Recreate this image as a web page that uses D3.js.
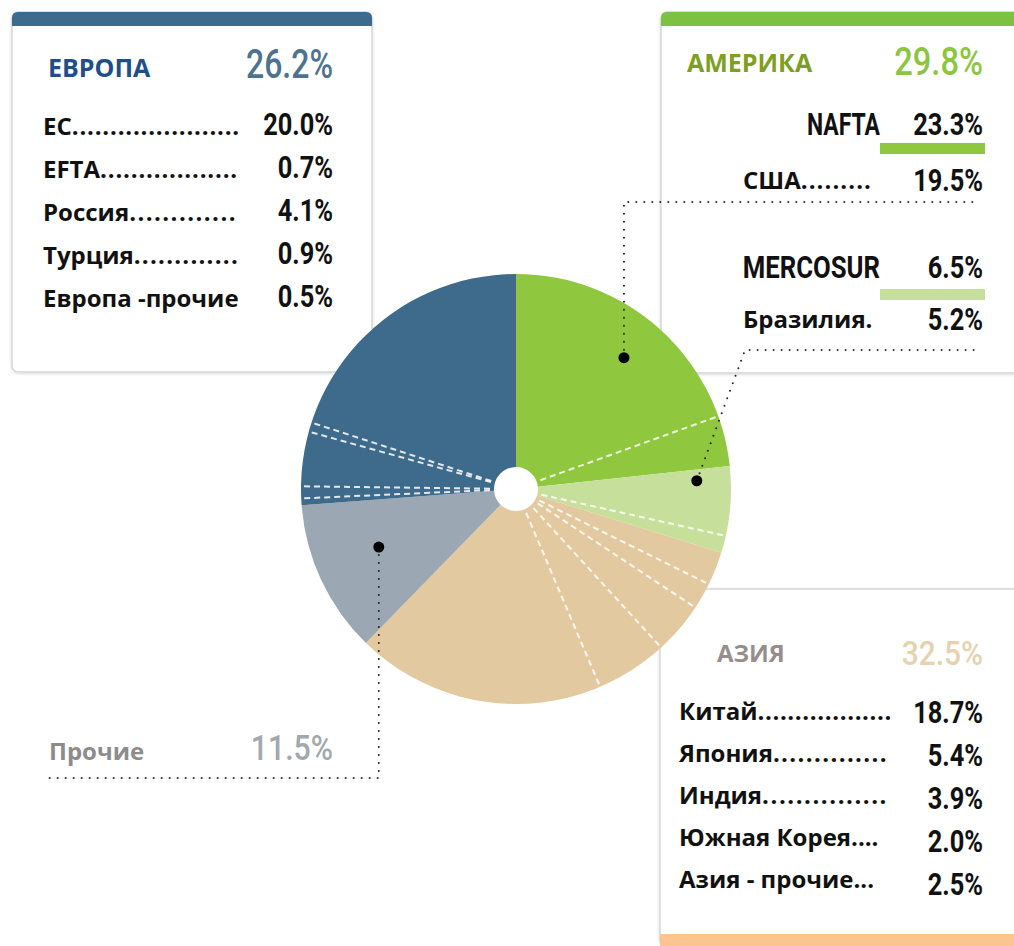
<!DOCTYPE html>
<html>
<head>
<meta charset="utf-8">
<script src="https://cdn.jsdelivr.net/npm/d3@7"></script>
<style>
  body { margin: 0; background: #fff; }
  .lbl { font-family: "Open Sans", "Noto Sans", sans-serif; font-weight: 700; }
  .num { font-family: Roboto, "Liberation Sans", sans-serif; }
</style>
</head>
<body>
<svg width="1014" height="946"></svg>
<script>
// --- data ---
const sliceNames = ["NAFTA", "MERCOSUR", "Азия", "Прочие", "Европа"];
const sliceValues = [23.3, 6.5, 32.5, 11.5, 26.2];

const europeLabels = ["ЕС", "EFTA", "Россия", "Турция", "Европа -прочие"];
const europeValues = [20.0, 0.7, 4.1, 0.9, 0.5];

const naftaLabel = "США";
const naftaValue = 19.5;
const mercosurLabel = "Бразилия.";
const mercosurValue = 5.2;

const asiaLabels = ["Китай", "Япония", "Индия", "Южная Корея....", "Азия - прочие..."];
const asiaValues = [18.7, 5.4, 3.9, 2.0, 2.5];

const fmt = d => d.toFixed(1) + "%";

const svg = d3.select('svg');

const sliceColors = ["#8fc73e", "#c6e09b", "#e3c99f", "#9ba8b4", "#3e6a8b"];

// --- boxes ---
const defs = svg.append('defs');
const sh = defs.append('filter').attr('id', 'sh').attr('x', '-10%').attr('y', '-10%').attr('width', '120%').attr('height', '120%');
sh.append('feDropShadow').attr('dx', 0).attr('dy', 1).attr('stdDeviation', 1.5).attr('flood-color', '#000').attr('flood-opacity', 0.15);

function box(x, y, w, h, topColor, bottomColor) {
  const b = svg.append('g');
  b.append('rect').attr('x', x).attr('y', y).attr('width', w).attr('height', h)
    .attr('rx', 6).attr('fill', '#fff').attr('stroke', '#d6d6d6').attr('stroke-width', 1.5)
    .attr('filter', 'url(#sh)');
  if (topColor) {
    b.append('path')
      .attr('d', `M${x},${y + 14} V${y + 6} Q${x},${y} ${x + 6},${y} H${x + w - 6} Q${x + w},${y} ${x + w},${y + 6} V${y + 14} Z`)
      .attr('fill', topColor);
  }
  if (bottomColor) {
    b.append('rect').attr('x', x).attr('y', y + h - 12).attr('width', w).attr('height', 12).attr('fill', bottomColor);
  }
}
box(12, 12, 360, 360, "#3e6a8e", null);
box(661, 12, 380, 361, "#7cc142", null);
box(660, 589, 380, 357, null, "#fcc48e");

// --- text helpers ---
function num(text, x, y, size, color, weight, sx) {
  svg.append('text').attr('class', 'num')
    .attr('transform', `translate(${x},${y}) scale(${sx || 0.82},1)`)
    .attr('text-anchor', 'end')
    .attr('font-size', size || 31).attr('font-weight', weight || 700)
    .attr('fill', color).text(text);
}
function title(text, x, y, size, color) {
  svg.append('text').attr('class', 'lbl').attr('x', x).attr('y', y)
    .attr('font-size', size).attr('fill', color).text(text);
}
function rowLabel(name, ndots, x, y, endX) {
  const t = svg.append('text').attr('class', 'lbl').attr('x', x).attr('y', y)
    .attr('font-size', 24).attr('fill', '#111');
  t.append('tspan').text(name);
  if (ndots > 0) {
    const d = t.append('tspan').text(".".repeat(ndots));
    const w = t.node().getComputedTextLength();
    d.attr('letter-spacing', ((endX - x) - w) / ndots);
  }
}

// Europe
title("ЕВРОПА", 48, 77, 25, "#1f4f8a");
num(fmt(sliceValues[4]), 333, 78, 40, "#4d7391", 500, 0.8);
const europeDots = [22, 18, 13, 13, 0];
const europeEnd = [240, 238, 237, 239, 242];
europeLabels.forEach((l, i) => {
  rowLabel(l, europeDots[i], 43, 135 + i * 43, europeEnd[i]);
  num(fmt(europeValues[i]), 333, 135 + i * 43, 31, "#111");
});

// America
title("АМЕРИКА", 687, 72, 25, "#7e9f22");
num(fmt(sliceValues[0] + sliceValues[1]), 983, 75, 38, "#8cc63f", 500, 0.86);
num(sliceNames[0], 880, 135, 31, "#111", 700, 0.74);
num(fmt(sliceValues[0]), 983, 135, 31, "#111");
svg.append('rect').attr('x', 880).attr('y', 143).attr('width', 105).attr('height', 11).attr('fill', sliceColors[0]);
rowLabel(naftaLabel, 9, 743, 189, 872);
num(fmt(naftaValue), 983, 191, 31, "#111");
num(sliceNames[1], 880, 278, 31, "#111", 700, 0.83);
num(fmt(sliceValues[1]), 983, 278, 31, "#111");
svg.append('rect').attr('x', 880).attr('y', 289).attr('width', 105).attr('height', 11).attr('fill', sliceColors[1]);
rowLabel(mercosurLabel, 0, 743, 328, 877);
num(fmt(mercosurValue), 983, 330, 31, "#111");

// Asia
title("АЗИЯ", 717, 662, 24, "#978d8b");
num(fmt(sliceValues[2]), 983, 665, 34, "#e6d2ae", 500, 0.88);
const asiaDots = [18, 14, 15, 0, 0];
const asiaEnd = [892, 888, 888, 890, 887];
asiaLabels.forEach((l, i) => {
  rowLabel(l, asiaDots[i], 679, 720 + i * 42, asiaEnd[i]);
  num(fmt(asiaValues[i]), 983, 723 + i * 43, 31, "#111");
});

// Others
title(sliceNames[3], 49, 760, 24, "#8c8c8c");
num(fmt(sliceValues[3]), 333, 760, 36, "#a2a8ad", 500, 0.84);

// --- pie ---
const cx = 516, cy = 489, rOuter = 215, rInner = 22;
const angle = d3.scaleLinear().domain([0, 100]).range([0, 2 * Math.PI]);
const arcs = d3.pie().sort(null).value(d => d)(sliceValues);
const arc = d3.arc().innerRadius(rInner).outerRadius(rOuter);
const pg = svg.append('g').attr('transform', `translate(${cx},${cy})`);

pg.selectAll('path.slice').data(arcs).join('path')
  .attr('class', 'slice')
  .attr('d', arc)
  .attr('fill', (d, i) => sliceColors[i]);

// sub-division dashes (clockwise order inside each slice)
const splits = [[naftaValue], [mercosurValue], asiaValues.slice(1).reverse(), [], europeValues.slice(1).reverse()];
const dashAngles = [];
splits.forEach((s, i) => {
  let c = 0;
  s.forEach(v => { c += v; dashAngles.push(arcs[i].startAngle + angle(c)); });
});
pg.selectAll('line.split').data(dashAngles).join('line')
  .attr('class', 'split')
  .attr('x1', a => d3.pointRadial(a, rInner + 4)[0])
  .attr('y1', a => d3.pointRadial(a, rInner + 4)[1])
  .attr('x2', a => d3.pointRadial(a, rOuter)[0])
  .attr('y2', a => d3.pointRadial(a, rOuter)[1])
  .attr('stroke', '#fff').attr('stroke-width', 2)
  .attr('stroke-dasharray', '6,4').attr('opacity', 0.85);

// --- callouts ---
const callouts = [
  { slice: 0, t: 0.47, r: 170, path: p => `M${p[0]},${p[1]} V202 H978` },
  { slice: 1, t: 0.15, r: 181, path: p => `M${p[0]},${p[1]} L745,350 H980` },
  { slice: 3, t: 0.55, r: 149, path: p => `M${p[0]},${p[1]} V778 H47` }
];
callouts.forEach(c => {
  const a = arcs[c.slice];
  const p = d3.pointRadial(a.startAngle + c.t * (a.endAngle - a.startAngle), c.r);
  const pt = [cx + p[0], cy + p[1]];
  svg.append('path').attr('d', c.path(pt))
    .attr('fill', 'none').attr('stroke', '#222').attr('stroke-width', 2)
    .attr('stroke-linecap', 'round').attr('stroke-dasharray', '0,8');
  svg.append('circle').attr('cx', pt[0]).attr('cy', pt[1]).attr('r', 5.5).attr('fill', '#000');
});
</script>
</body>
</html>
